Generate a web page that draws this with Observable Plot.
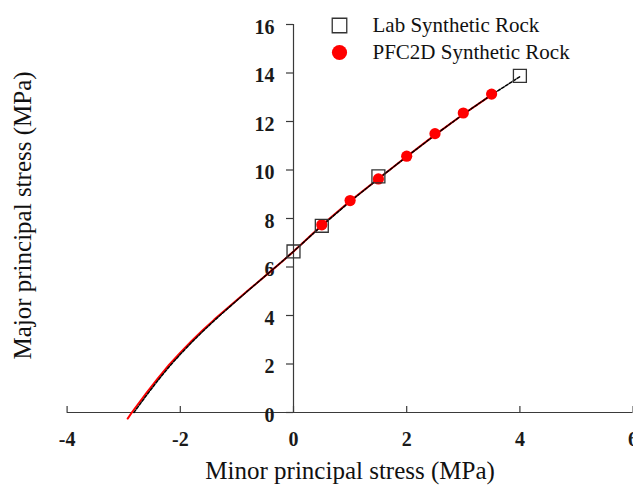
<!DOCTYPE html>
<html>
<head>
<meta charset="utf-8">
<script src="https://cdn.jsdelivr.net/npm/d3@7"></script>
<script src="https://cdn.jsdelivr.net/npm/@observablehq/plot@0.6"></script>
<style>
  html, body { margin: 0; padding: 0; background: white; }
  #chart { width: 633px; height: 486px; overflow: hidden; }
</style>
</head>
<body>
<div id="chart"></div>
<script>
// Axis ticks
const xTicks = [-4, -2, 0, 2, 4, 6];
const xTickLabels = ["-4", "-2", "0", "2", "4", "6"];
const yTicks = [0, 2, 4, 6, 8, 10, 12, 14, 16];
const yTickLabels = ["0", "2", "4", "6", "8", "10", "12", "14", "16"];

// Lab Synthetic Rock (open squares)
const labX = [0, 0.5, 1.5, 4];
const labY = [6.64, 7.7, 9.74, 13.88];

// PFC2D Synthetic Rock (red dots)
const pfcX = [0.5, 1, 1.5, 2, 2.5, 3, 3.5];
const pfcY = [7.74, 8.74, 9.63, 10.57, 11.5, 12.35, 13.13];

// Red fitted envelope
const redX = [-2.93, -2.85, -2.6, -2.4, -2.2, -2.0, -1.8, -1.6, -1.4, -1.2, -1.0, -0.8, -0.6, -0.4, -0.2, 0, 0.5, 1, 1.5, 2, 2.5, 3, 3.5];
const redY = [-0.25, 0.02, 0.8, 1.4, 1.96, 2.47, 2.95, 3.4, 3.83, 4.24, 4.64, 5.04, 5.43, 5.83, 6.23, 6.64, 7.72, 8.72, 9.64, 10.56, 11.45, 12.3, 13.1];

// Black fitted envelope
const blackX = [-2.82, -2.6, -2.4, -2.2, -2.0, -1.8, -1.6, -1.4, -1.2, -1.0, -0.8, -0.6, -0.4, -0.2, 0, 0.5, 1, 1.5, 2, 2.5, 3, 3.5, 4];
const blackY = [0.0, 0.7, 1.31, 1.88, 2.4, 2.89, 3.35, 3.79, 4.21, 4.62, 5.03, 5.43, 5.83, 6.23, 6.64, 7.7, 8.7, 9.64, 10.55, 11.44, 12.3, 13.1, 13.85];

// Legend
const legendLabels = ["Lab Synthetic Rock", "PFC2D Synthetic Rock"];
const xTitle = "Minor principal stress (MPa)";
const yTitle = "Major principal stress (MPa)";

const lab = labX.map((x, i) => ({x, y: labY[i]}));
const pfc = pfcX.map((x, i) => ({x, y: pfcY[i]}));
const red = redX.map((x, i) => ({x, y: redY[i]}));
const black = blackX.map((x, i) => ({x, y: blackY[i]}));

const axisColor = "#3a3a3a";
const serif = "'Liberation Serif', 'Times New Roman', serif";

const chart = Plot.plot({
  width: 633,
  height: 486,
  marginLeft: 66.6,
  marginRight: 0.4,
  marginTop: 24,
  marginBottom: 74,
  x: {domain: [-4, 6], axis: null},
  y: {domain: [0, 16], axis: null},
  style: {fontFamily: serif, background: "white", color: "#111", overflow: "visible"},
  marks: [
    // axis lines
    Plot.ruleY([0], {stroke: axisColor, strokeWidth: 1.2}),
    Plot.ruleX([0], {stroke: axisColor, strokeWidth: 1.2}),
    // y ticks (pointing left of y axis at x=0)
    Plot.ruleY(yTicks, {y: d => d, x1: () => 0, x2: () => 0, insetLeft: -7, stroke: axisColor, strokeWidth: 1.2}),
    // x ticks (pointing up)
    Plot.ruleX(xTicks, {x: d => d, y1: () => 0, y2: () => 0, insetTop: -6, stroke: axisColor, strokeWidth: 1.2}),
    // tick labels
    Plot.text(yTicks, {x: () => 0, y: d => d, text: (d, i) => yTickLabels[i], textAnchor: "end", lineAnchor: "middle", dx: -19, dy: 3, fontSize: 20, fontWeight: "bold", fill: "#1a1a1a"}),
    Plot.text(xTicks, {x: d => d, y: () => 0, text: (d, i) => xTickLabels[i], lineAnchor: "middle", dy: 27, fontSize: 20, fontWeight: "bold", fill: "#1a1a1a"}),
    // axis titles
    Plot.text([xTitle], {frameAnchor: "bottom", lineAnchor: "middle", textAnchor: "middle", dy: 58, fontSize: 25, fill: "#111"}),
    Plot.text([yTitle], {frameAnchor: "left", rotate: -90, lineAnchor: "middle", textAnchor: "middle", dx: -44, dy: -3, fontSize: 25, fill: "#111"}),
    // curves
    Plot.line(red, {x: "x", y: "y", stroke: "#ff0000", strokeWidth: 2}),
    Plot.line(black, {x: "x", y: "y", stroke: "#000", strokeWidth: 1.5, strokeDasharray: "3,1.6"}),
    // data points
    Plot.dot(pfc, {x: "x", y: "y", r: 5.6, fill: "#ff0000", stroke: "none"}),
    Plot.dot(lab, {x: "x", y: "y", symbol: "square", r: 7.3, fill: "none", stroke: "#333", strokeWidth: 1.3}),
    // legend
    Plot.dot([legendLabels[0]], {frameAnchor: "top-left", dx: 272.4, dy: 1, symbol: "square", r: 8.2, fill: "none", stroke: "#333", strokeWidth: 1.3}),
    Plot.dot([legendLabels[1]], {frameAnchor: "top-left", dx: 272.4, dy: 28, r: 7.6, fill: "#ff0000", stroke: "none"}),
    Plot.text([legendLabels[0]], {frameAnchor: "top-left", lineAnchor: "middle", dx: 305.4, dy: 1, text: d => d, textAnchor: "start", fontSize: 21, fill: "#111"}),
    Plot.text([legendLabels[1]], {frameAnchor: "top-left", lineAnchor: "middle", dx: 305.4, dy: 28, text: d => d, textAnchor: "start", fontSize: 21, fill: "#111"})
  ]
});

document.getElementById("chart").appendChild(chart);
</script>
</body>
</html>
